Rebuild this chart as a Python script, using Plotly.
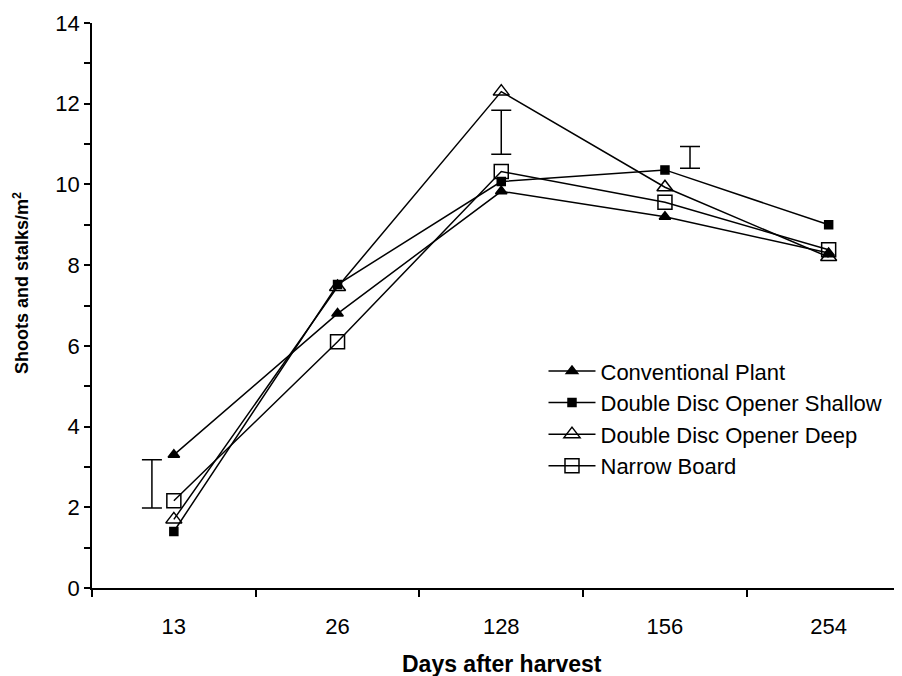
import plotly.graph_objects as go

categories = ["13", "26", "128", "156", "254"]
conventional = [3.3, 6.8, 9.83, 9.2, 8.3]
dd_shallow = [1.4, 7.52, 10.07, 10.36, 9.0]
dd_deep = [1.7, 7.46, 12.3, 9.93, 8.2]
narrow_board = [2.16, 6.1, 10.32, 9.56, 8.38]

# LSD bars: category index + offset, centre value, half-length
lsd_pos = [-0.134, 2.0, 3.153]
lsd_mid = [2.58, 11.29, 10.67]
lsd_half = [0.6, 0.545, 0.27]

x_idx = list(range(len(categories)))
FONT = "Liberation Sans, Arial, sans-serif"

series = [
    ("Conventional Plant", conventional, "triangle-up", 10, "black"),
    ("Double Disc Opener Shallow", dd_shallow, "square", 8, "black"),
    ("Double Disc Opener Deep", dd_deep, "triangle-up-open", 14, "black"),
    ("Narrow Board", narrow_board, "square-open", 14, "black"),
]

fig = go.Figure()
for name, vals, sym, size, col in series:
    fig.add_trace(go.Scatter(
        x=x_idx, y=vals, name=name, mode="lines+markers",
        line=dict(color="black", width=1.5),
        marker=dict(symbol=sym, size=size, color=col,
                    line=dict(color="black", width=1.5)),
    ))

fig.add_trace(go.Scatter(
    x=lsd_pos, y=lsd_mid, mode="markers", showlegend=False,
    marker=dict(size=1, color="rgba(0,0,0,0)"),
    error_y=dict(type="data", array=lsd_half, visible=True,
                 color="black", thickness=1.5, width=10),
    hoverinfo="skip",
))

fig.add_annotation(text="<b>Shoots and stalks/m<sup>2</sup></b>", textangle=-90,
                   xref="paper", yref="paper", x=-0.0877, y=0.5398,
                   xanchor="center", yanchor="middle", showarrow=False,
                   font=dict(size=18, family=FONT, color="black"))
fig.add_annotation(text="<b>Days after harvest</b>",
                   xref="paper", yref="paper", x=0.506, y=-0.1345,
                   xanchor="center", yanchor="middle", showarrow=False,
                   font=dict(size=23, family=FONT, color="black"))

fig.update_layout(
    width=894, height=668,
    paper_bgcolor="white", plot_bgcolor="white",
    margin=dict(l=84, r=0, t=15, b=88, autoexpand=False),
    font=dict(family=FONT, size=22, color="black"),
    legend=dict(x=0.5574, y=0.421, xanchor="left", yanchor="top",
                bgcolor="rgba(0,0,0,0)", font=dict(size=22, family=FONT),
                tracegroupgap=0, itemsizing="trace", itemwidth=47),
    xaxis=dict(
        range=[-0.5, 4.448], tickvals=x_idx, ticktext=categories,
        ticks="outside", ticklen=18, tickcolor="rgba(0,0,0,0)",
        showgrid=False, zeroline=False, automargin=False,
        showline=True, linecolor="black", linewidth=1.5,
        minor=dict(tickvals=[-0.5, 0.5, 1.5, 2.5, 3.5], ticks="outside",
                   ticklen=7, tickcolor="black", tickwidth=1.5, showgrid=False),
        tickfont=dict(size=22),
    ),
    yaxis=dict(
        range=[0, 14], dtick=2, tick0=0, ticks="outside", ticklen=6,
        tickcolor="black", tickwidth=1.5, showgrid=False, zeroline=False,
        showline=True, linecolor="black", linewidth=1.5, automargin=False,
        minor=dict(dtick=1, ticks="outside", ticklen=6, tickcolor="black",
                   tickwidth=1.5, showgrid=False),
        tickfont=dict(size=22),
    ),
)

fig.write_html("out.html")
